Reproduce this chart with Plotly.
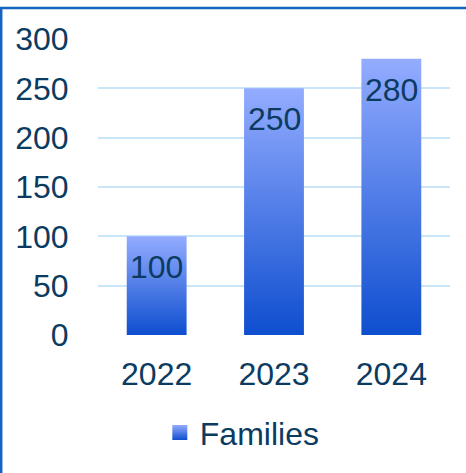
import plotly.graph_objects as go

categories = ["2022", "2023", "2024"]
values = [100, 250, 280]
series_name = "Families"
y_ticks = [0, 50, 100, 150, 200, 250, 300]

TEXT = "#0C3B62"
GRID = "#C9E5F8"
TOP = "#93ACFF"
BOTTOM = "#0E4ECF"
FONT = "Liberation Sans, Arial, sans-serif"
FS = 32
HALF = 0.255

fig = go.Figure()
for i, (cat, v) in enumerate(zip(categories, values)):
    fig.add_trace(go.Scatter(
        x=[i - HALF, i + HALF, i + HALF, i - HALF, i - HALF],
        y=[0, 0, v, v, 0],
        mode="lines", line=dict(width=0),
        fill="toself",
        fillgradient=dict(type="vertical", colorscale=[[0, BOTTOM], [1, TOP]], start=0, stop=v),
        name=series_name, legendgroup="f", showlegend=False,
        hoverinfo="skip",
    ))

# legend entry: gradient square marker
fig.add_trace(go.Scatter(
    x=[None], y=[None], mode="markers", name=series_name, legendgroup="f",
    marker=dict(symbol="square", size=15, color=TOP, line=dict(width=0),
                gradient=dict(type="vertical", color=BOTTOM)),
    showlegend=True, hoverinfo="skip",
))

annotations = [
    dict(x=i, y=v, xref="x", yref="y", text=str(v), showarrow=False,
         yanchor="middle", yshift=-31, font=dict(size=FS, color=TEXT, family=FONT))
    for i, v in enumerate(values)
]

fig.update_layout(
    width=466, height=473,
    margin=dict(l=98, r=16, t=39, b=138),
    paper_bgcolor="white", plot_bgcolor="white",
    font=dict(family=FONT, color=TEXT, size=FS),
    showlegend=True,
    legend=dict(orientation="h", x=0.41, xanchor="center", y=-0.33, yanchor="middle",
                font=dict(size=FS, color=TEXT), bgcolor="rgba(0,0,0,0)", itemwidth=30),
    xaxis=dict(range=[-0.5, 2.5], tickvals=list(range(len(categories))), ticktext=categories,
               showgrid=False, zeroline=False, showline=False,
               ticks="outside", ticklen=11, tickcolor="rgba(0,0,0,0)",
               tickfont=dict(size=FS, color=TEXT)),
    yaxis=dict(range=[0, 300], tickvals=y_ticks, showgrid=True, gridcolor=GRID, gridwidth=2,
               zeroline=False, showline=False,
               ticks="outside", ticklen=22, tickcolor="rgba(0,0,0,0)",
               tickfont=dict(size=FS, color=TEXT)),
    annotations=annotations,
    shapes=[dict(type="rect", xref="paper", yref="paper",
                 x0=-0.275, x1=1.06, y0=-0.5, y1=1.105,
                 line=dict(color="#1565C0", width=2.5), fillcolor="rgba(0,0,0,0)", layer="below")],
)

fig.write_html("out.html")
